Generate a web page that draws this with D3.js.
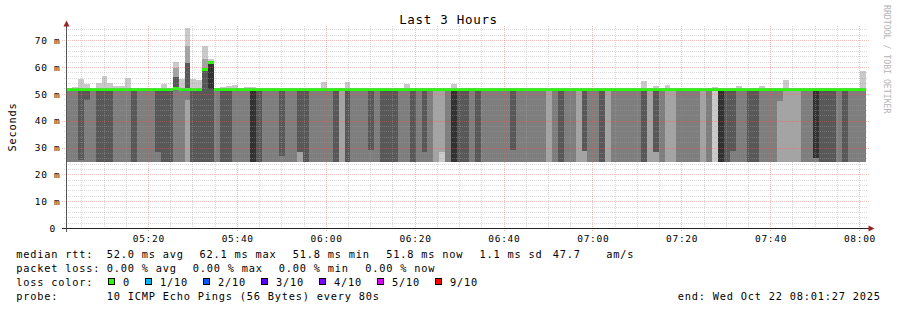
<!DOCTYPE html>
<html>
<head>
<meta charset="utf-8">
<script src="https://cdn.jsdelivr.net/npm/d3@7"></script>
<style>
  body { margin: 0; background: #fff; }
  text { font-family: "DejaVu Sans Mono", monospace; }
</style>
</head>
<body>
<script>
//Width and height
var w = 897;
var h = 310;

//time window of the graph, one smoke column every 80 s
var startTime = new Date(Date.UTC(2025, 9, 22, 5, 1, 27));
var endTime = new Date(Date.UTC(2025, 9, 22, 8, 1, 27));
var stepSec = 80;

//median rtt per column (ms)
var median = [
  51.9,51.9,51.9,51.9,51.9,51.9,51.9,51.9,51.9,51.9,51.9,51.9,51.9,51.9,51.9,
  51.9,51.9,51.9,52.4,51.8,51.9,51.9,51.9,59.2,62.1,51.9,51.9,51.9,51.9,51.9,
  51.9,51.9,51.9,51.9,51.8,51.9,51.9,51.9,51.9,51.9,51.9,51.9,51.9,51.9,51.9,
  51.9,51.9,51.9,51.9,51.9,51.9,51.9,51.9,51.9,51.9,51.9,51.9,51.9,51.9,51.9,
  51.9,51.9,51.9,51.9,51.9,51.9,51.9,51.9,51.9,51.9,51.9,51.9,51.9,51.9,51.9,
  51.9,51.9,51.9,51.9,51.9,51.9,51.9,51.9,51.9,51.9,51.9,51.9,51.9,51.9,51.9,
  51.9,51.9,51.9,51.9,51.9,51.9,51.9,51.9,51.9,51.9,51.9,51.9,51.9,51.9,51.9,
  51.9,51.9,51.9,51.9,51.9,51.9,51.9,51.9,51.9,51.9,51.9,51.9,51.9,51.9,51.9,
  51.9,51.9,51.9,51.9,51.9,51.9,51.9,51.9,51.9,51.9,51.9,51.9,51.9,51.9,51.8
];

//lowest ping per column (ms)
var pingMin = [
  24.8,24.8,24.8,24.8,24.8,24.8,24.8,24.8,24.8,24.8,24.8,24.8,24.8,24.8,24.8,
  24.8,24.8,24.8,24.8,24.8,24.8,24.8,24.8,24.8,24.8,24.8,24.8,24.8,24.8,24.8,
  24.8,24.8,24.8,24.8,24.8,24.8,24.8,24.8,24.8,24.8,24.8,24.8,24.8,24.8,24.8,
  24.8,24.8,24.8,24.8,24.8,24.8,24.8,24.8,24.8,24.8,24.8,24.8,24.8,24.8,24.8,
  24.8,24.8,24.8,24.8,24.8,24.8,24.8,24.8,24.8,24.8,24.8,24.8,24.8,24.8,24.8,
  24.8,24.8,24.8,24.8,24.8,24.8,24.8,24.8,24.8,24.8,24.8,24.8,24.8,24.8,24.8,
  24.8,24.8,24.8,24.8,24.8,24.8,24.8,24.8,24.8,24.8,24.8,24.8,24.8,24.8,24.8,
  24.8,24.8,24.8,24.8,24.8,24.8,24.8,24.8,24.8,24.8,24.8,24.8,24.8,24.8,24.8,
  24.8,24.8,24.8,24.8,24.8,24.8,24.8,24.8,24.8,24.8,24.8,24.8,24.8,24.8,24.8
];

//highest ping per column (ms), null where it equals the median
var pingMax = [
  52.5,52.6,55.7,53.9,null,54.1,56.8,54.1,53.1,53.0,56.0,null,null,null,null,
  null,53.7,null,62.0,55.6,74.6,55.6,55.2,67.9,63.0,null,52.6,53.2,53.3,null,
  52.7,52.8,null,null,null,null,null,null,null,null,null,null,null,54.5,null,
  null,null,54.5,null,null,null,null,null,null,null,null,null,54.0,null,null,
  null,null,null,null,null,53.7,null,null,null,null,null,null,null,null,null,
  null,null,null,null,null,null,null,null,null,null,null,null,null,null,null,
  null,null,null,null,null,null,null,55.0,null,53.0,null,53.4,null,null,null,
  null,null,null,null,52.6,null,null,null,53.0,null,null,null,53.0,null,null,
  null,55.2,null,null,null,null,null,null,null,null,null,null,null,null,58.6
];

//smoke darkness under the median (1 = lightest ... 5 = darkest)
var bodyShade = [
  3,3,4,4,3,4,4,4,3,3,3,4,3,3,3,
  4,4,4,3,3,3,4,4,4,4,3,4,4,3,3,
  3,5,4,3,3,3,4,3,3,4,4,3,3,3,3,
  4,2,4,3,3,3,4,3,4,4,4,3,3,4,3,
  4,3,2,2,3,5,4,4,3,4,3,3,3,3,3,
  4,3,3,3,3,3,2,3,4,3,3,2,4,3,3,
  4,2,3,3,3,3,3,4,2,4,3,2,2,3,3,
  3,3,2,3,1,5,4,4,3,3,4,4,3,3,3,
  3,2,2,2,3,3,5,4,4,4,3,4,3,3,3
];

//extra smoke bands: column, from ms, to ms, shade
var smokeBands = [
  [2, 24.8, 25.6, 3], [3, 24.8, 47.8, 3], [15, 24.8, 28.5, 3],
  [18, 52.4, 56.3, 4], [18, 56.3, 60.0, 2],
  [20, 24.8, 48.0, 2], [20, 51.9, 61.5, 4], [20, 61.5, 68.0, 2],
  [23, 59.2, 63.0, 2], [24, 51.9, 62.1, 5],
  [36, 24.8, 26.9, 3], [39, 24.8, 28.5, 2], [51, 24.8, 29.3, 3],
  [60, 24.8, 28.5, 3], [63, 24.8, 28.5, 1], [75, 24.8, 29.1, 3],
  [87, 24.8, 28.7, 2], [99, 24.8, 28.5, 2], [112, 24.8, 28.7, 3],
  [120, 24.8, 47.4, 2], [126, 24.8, 26.1, 3]
];

//y axis ticks (ms) and loss legend
var yTicks = [0, 10, 20, 30, 40, 50, 60, 70];
var lossLabels = ["0", "1/10", "2/10", "3/10", "4/10", "5/10", "9/10"];
var lossColors = ["#26ff00", "#00b8ff", "#0059ff", "#5e00ff", "#7e00ff", "#dd00ff", "#ff0000"];

var shadeColors = [null, "#cacaca", "#a4a4a4", "#7e7e7e", "#585858", "#323232"];

//scales
var xScale = d3.scaleUtc()
    .domain([startTime, endTime])
    .range([66, 866]);
var yScale = d3.scaleLinear()
    .domain([0, 74.54])
    .range([228.5, 28.5]);

function snap(v) { return Math.round(v - 0.5) + 0.5; }
function colStart(i) { return new Date(startTime.getTime() + i * stepSec * 1000); }
function colEnd(i) { return new Date(startTime.getTime() + (i + 1) * stepSec * 1000); }

//Create SVG element
var svg = d3.select("body")
            .append("svg")
            .attr("width", w)
            .attr("height", h)
            .style("display", "block");

svg.append("rect").attr("width", w).attr("height", h).attr("fill", "#fff");

var plot = svg.append("g").attr("shape-rendering", "crispEdges");
var cols = d3.range(median.length);

//smoke above the median
plot.selectAll("rect.top")
    .data(cols.filter(function(i) { return pingMax[i] != null; }))
    .enter()
    .append("rect")
    .attr("class", "top")
    .attr("x", function(i) { return xScale(colStart(i)); })
    .attr("width", function(i) { return xScale(colEnd(i)) - xScale(colStart(i)); })
    .attr("y", function(i) { return yScale(pingMax[i]); })
    .attr("height", function(i) { return yScale(median[i]) - yScale(pingMax[i]); })
    .attr("fill", shadeColors[1]);

//smoke body below the median
plot.selectAll("rect.body")
    .data(cols)
    .enter()
    .append("rect")
    .attr("class", "body")
    .attr("x", function(i) { return xScale(colStart(i)); })
    .attr("width", function(i) { return xScale(colEnd(i)) - xScale(colStart(i)); })
    .attr("y", function(i) { return yScale(median[i]); })
    .attr("height", function(i) { return yScale(pingMin[i]) - yScale(median[i]); })
    .attr("fill", function(i) { return shadeColors[bodyShade[i]]; });

//extra bands
plot.selectAll("rect.band")
    .data(smokeBands)
    .enter()
    .append("rect")
    .attr("class", "band")
    .attr("x", function(d) { return xScale(colStart(d[0])); })
    .attr("width", function(d) { return xScale(colEnd(d[0])) - xScale(colStart(d[0])); })
    .attr("y", function(d) { return yScale(d[2]); })
    .attr("height", function(d) { return yScale(d[1]) - yScale(d[2]); })
    .attr("fill", function(d) { return shadeColors[d[3]]; });

//median line, coloured by loss (no loss here)
plot.selectAll("rect.median")
    .data(cols)
    .enter()
    .append("rect")
    .attr("class", "median")
    .attr("x", function(i) { return xScale(colStart(i)); })
    .attr("width", function(i) { return xScale(colEnd(i)) - xScale(colStart(i)); })
    .attr("y", function(i) { return yScale(median[i]) - 1.3; })
    .attr("height", 3)
    .attr("fill", lossColors[0]);

//grid on top
var minorColor = "rgba(160,160,160,0.4)";
var majorColor = "rgba(230,90,90,0.4)";
var grid = svg.append("g").attr("stroke-dasharray", "1,1").attr("shape-rendering", "crispEdges");
var minorY = d3.range(0, 75, 2).filter(function(v) { return v % 10 != 0; });
grid.selectAll("line.minorY")
    .data(minorY)
    .enter()
    .append("line")
    .attr("x1", 64).attr("x2", 868)
    .attr("y1", function(d) { return snap(yScale(d)); })
    .attr("y2", function(d) { return snap(yScale(d)); })
    .attr("stroke", minorColor);

var minorX = d3.utcMinute.every(5).range(startTime, endTime)
    .filter(function(t) { return t.getUTCMinutes() % 20 != 0; });
grid.selectAll("line.minorX")
    .data(minorX)
    .enter()
    .append("line")
    .attr("x1", function(d) { return snap(xScale(d)); })
    .attr("x2", function(d) { return snap(xScale(d)); })
    .attr("y1", 26).attr("y2", 230)
    .attr("stroke", minorColor);

grid.selectAll("line.majorY")
    .data(yTicks.slice(1))
    .enter()
    .append("line")
    .attr("x1", 62).attr("x2", 869)
    .attr("y1", function(d) { return snap(yScale(d)); })
    .attr("y2", function(d) { return snap(yScale(d)); })
    .attr("stroke", majorColor);

var majorX = d3.utcMinute.every(20).range(startTime, endTime);
grid.selectAll("line.majorX")
    .data(majorX)
    .enter()
    .append("line")
    .attr("x1", function(d) { return snap(xScale(d)); })
    .attr("x2", function(d) { return snap(xScale(d)); })
    .attr("y1", 26).attr("y2", 232)
    .attr("stroke", majorColor);

//axes
svg.append("line")
    .attr("x1", 62).attr("x2", 869).attr("y1", 228.5).attr("y2", 228.5)
    .attr("stroke", "#222");
svg.append("line")
    .attr("x1", 66.5).attr("x2", 66.5).attr("y1", 232).attr("y2", 25)
    .attr("stroke", "#555");
svg.append("path")
    .attr("d", "M63.5,26.5 L69.5,26.5 L66.5,20.5 Z")
    .attr("fill", "#9b2222");
svg.append("path")
    .attr("d", "M868.5,225.5 L868.5,231.5 L874.5,228.5 Z")
    .attr("fill", "#9b2222");

//tick labels
svg.selectAll("text.ylab")
    .data(yTicks)
    .enter()
    .append("text")
    .attr("x", function(d) { return d == 0 ? 56 : 60.5; })
    .attr("y", function(d) { return yScale(d) + 3.2; })
    .attr("text-anchor", "end")
    .style("font-size", "9.5px")
    .style("letter-spacing", "0.7px")
    .text(function(d) { return d == 0 ? "0" : d + " m"; });

svg.selectAll("text.xlab")
    .data(majorX)
    .enter()
    .append("text")
    .attr("x", function(d) { return xScale(d) + 0.4; })
    .attr("y", 241.5)
    .attr("text-anchor", "middle")
    .style("font-size", "9.5px")
    .style("letter-spacing", "0.7px")
    .text(d3.utcFormat("%H:%M"));

//title, axis label, watermark
svg.append("text")
    .attr("x", 448.5).attr("y", 24)
    .attr("text-anchor", "middle")
    .style("font-size", "12.5px")
    .style("letter-spacing", "0.7px")
    .text("Last 3 Hours");

svg.append("text")
    .attr("transform", "translate(15.5,127) rotate(-90)")
    .attr("text-anchor", "middle")
    .style("font-size", "10.3px")
    .style("letter-spacing", "0.8px")
    .text("Seconds");

svg.append("text")
    .attr("transform", "translate(883.5,5) rotate(90)")
    .style("font-size", "8.2px")
    .attr("fill", "#b4b4b4")
    .text("RRDTOOL / TOBI OETIKER");

//legend
var legendItems = [
  ["median rtt:", 16.2, 258], ["52.0 ms avg", 106.8, 258], ["62.1 ms max", 199.5, 258],
  ["51.8 ms min", 292.8, 258], ["51.8 ms now", 386.2, 258], ["1.1 ms sd", 479.5, 258],
  ["47.7", 552.8, 258], ["am/s", 606.2, 258],
  ["packet loss:", 16.2, 272], ["0.00 % avg", 106.8, 272], ["0.00 % max", 192.8, 272],
  ["0.00 % min", 278.8, 272], ["0.00 % now", 365.2, 272],
  ["loss color:", 16.2, 286],
  ["probe:", 16.2, 300], ["10 ICMP Echo Pings (56 Bytes) every 80s", 106.8, 300],
  ["end: Wed Oct 22 08:01:27 2025", 677.8, 300]
];
svg.selectAll("text.legend")
    .data(legendItems)
    .enter()
    .append("text")
    .attr("x", function(d) { return d[1]; })
    .attr("y", function(d) { return d[2]; })
    .style("font-size", "10.3px")
    .style("letter-spacing", "0.8px")
    .text(function(d) { return d[0]; });

var cursor = 108.5;
lossLabels.forEach(function(lbl, k) {
  svg.append("rect")
     .attr("x", cursor).attr("y", 278.5)
     .attr("width", 6).attr("height", 6)
     .attr("fill", lossColors[k])
     .attr("stroke", "#000")
     .attr("shape-rendering", "crispEdges");
  svg.append("text")
     .attr("x", cursor + 14.5).attr("y", 286)
     .style("font-size", "10.3px")
     .style("letter-spacing", "0.8px")
     .text(lbl);
  cursor = cursor + 15 + lbl.length * 7 + 15;
});
</script>
</body>
</html>
